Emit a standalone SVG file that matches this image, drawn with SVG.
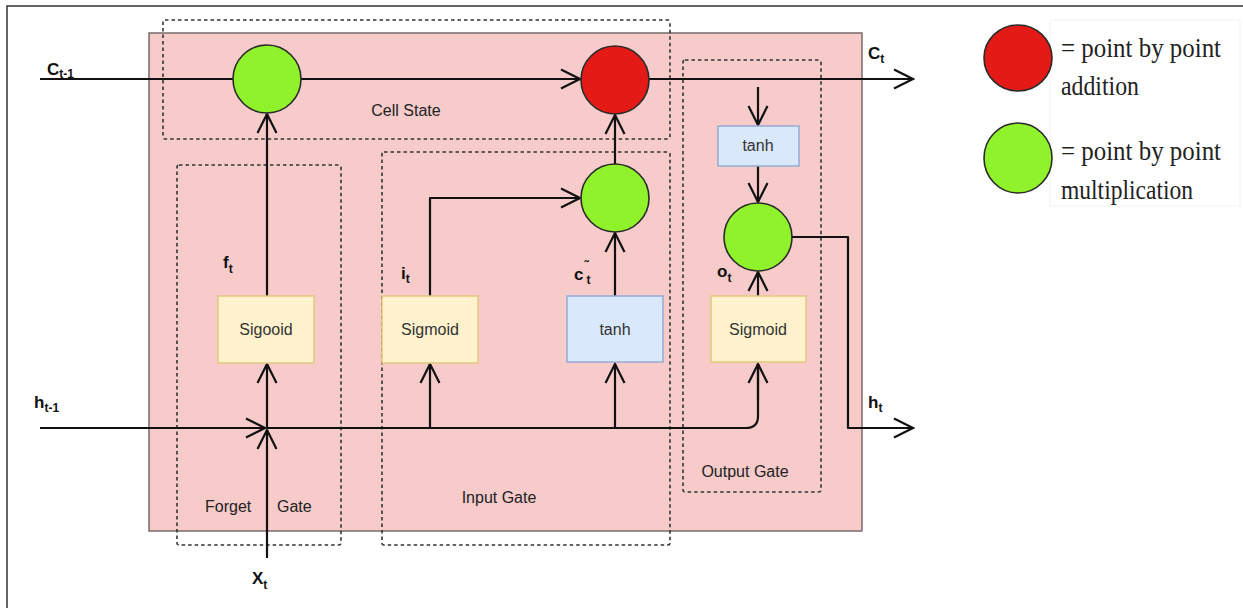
<svg xmlns="http://www.w3.org/2000/svg" width="1243" height="608" viewBox="0 0 1243 608">
<defs>
<style>
.frame{fill:none;stroke:#333;stroke-width:1.5}
.cell{fill:#f7cbca;stroke:#7a6a6a;stroke-width:1.5}
.dash{fill:none;stroke:#333;stroke-width:1.6;stroke-dasharray:3.5 3}
.ln{fill:none;stroke:#111;stroke-width:2.2;stroke-linejoin:round}
.arr{marker-end:url(#ah)}
.mul{fill:#8ff22b;stroke:#2a2a2a;stroke-width:1.6}
.add{fill:#e41a16;stroke:#2a2a2a;stroke-width:1.6}
.sig{fill:#fff2cc;stroke:#e3c77e;stroke-width:1.5}
.th{fill:#dae8fc;stroke:#94acd4;stroke-width:1.5}
.bt{font-family:"Liberation Sans",Arial,sans-serif;font-size:16px;fill:#333;text-anchor:middle}
.gl{font-family:"Liberation Sans",Arial,sans-serif;font-size:16px;fill:#222}
.var{font-family:"Liberation Sans",Arial,sans-serif;font-weight:bold;font-size:17px;fill:#111}
.sub{font-size:12px}
.leg{font-family:"Liberation Serif","Times New Roman",serif;font-size:27px;fill:#222}
</style>
<marker id="ah" viewBox="-22 -12 24 24" markerWidth="24" markerHeight="24" refX="0" refY="0" orient="auto" markerUnits="userSpaceOnUse">
<path d="M -19 -9.5 L 0 0 L -19 9.5" fill="none" stroke="#111" stroke-width="2.2" stroke-linejoin="miter"/>
</marker>
</defs>
<rect width="1243" height="608" fill="#fff"/>
<path class="frame" d="M 7 608 V 6 H 1243"/>
<g id="lstm-cell">
<rect class="cell" x="149" y="33" width="713" height="498"/>
</g>
<g id="cell-state-region">
<rect class="dash" x="163" y="20" width="507" height="119" rx="2"/>
<text class="gl" x="406" y="116" text-anchor="middle" font-size="17">Cell State</text>
</g>
<g id="forget-gate-region">
<rect class="dash" x="177" y="165" width="164" height="380" rx="2"/>
<text class="gl"><tspan x="205" y="512">Forget</tspan><tspan x="277" y="512">Gate</tspan></text>
</g>
<g id="input-gate-region">
<rect class="dash" x="382" y="152" width="288" height="393" rx="2"/>
<text class="gl" x="499" y="503" text-anchor="middle">Input Gate</text>
</g>
<g id="output-gate-region">
<rect class="dash" x="683" y="60" width="138" height="432" rx="2"/>
<text class="gl" x="745" y="477" text-anchor="middle">Output Gate</text>
</g>
<g id="connectors">
<path class="ln" d="M 40 79 H 233"/>
<path class="ln arr" d="M 301 79 H 580"/>
<path class="ln arr" d="M 649 79 H 913"/>
<path class="ln arr" d="M 267 296 V 114"/>
<path class="ln arr" d="M 40 428 H 265"/>
<path class="ln arr" d="M 267 558 V 430"/>
<path class="ln arr" d="M 267 428 V 364"/>
<path class="ln" d="M 267 428 H 746 Q 758 428 758 416 V 364"/>
<path class="ln arr" d="M 758 400 V 364"/>
<path class="ln arr" d="M 430 428 V 364"/>
<path class="ln arr" d="M 615 428 V 364"/>
<path class="ln arr" d="M 430 296 V 198 H 580"/>
<path class="ln arr" d="M 615 296 V 233"/>
<path class="ln arr" d="M 615 164 V 115"/>
<path class="ln arr" d="M 758 87 V 125"/>
<path class="ln arr" d="M 758 166 V 202"/>
<path class="ln arr" d="M 758 296 V 272"/>
<path class="ln arr" d="M 792 237 H 848 V 428 H 913"/>
</g>
<g id="forget-mult"><circle class="mul" cx="267" cy="79" r="34"/></g>
<g id="cell-add"><circle class="add" cx="615" cy="80" r="34"/></g>
<g id="input-mult"><circle class="mul" cx="615" cy="198" r="34"/></g>
<g id="output-mult"><circle class="mul" cx="758" cy="237" r="34"/></g>
<g id="forget-sigmoid">
<rect class="sig" x="218" y="296" width="96" height="67"/>
<text class="bt" x="266" y="335">Sigooid</text>
</g>
<g id="input-sigmoid">
<rect class="sig" x="382" y="296" width="96" height="67"/>
<text class="bt" x="430" y="335">Sigmoid</text>
</g>
<g id="input-tanh">
<rect class="th" x="567" y="296" width="96" height="66"/>
<text class="bt" x="615" y="335">tanh</text>
</g>
<g id="output-sigmoid">
<rect class="sig" x="711" y="296" width="95" height="66"/>
<text class="bt" x="758" y="335">Sigmoid</text>
</g>
<g id="output-tanh">
<rect class="th" x="718" y="126" width="81" height="40"/>
<text class="bt" x="758" y="151">tanh</text>
</g>
<g id="labels">
<text class="var" x="47" y="75">C<tspan class="sub" dy="3">t-1</tspan></text>
<text class="var" x="868" y="59" font-size="15">C<tspan class="sub" dy="4">t</tspan></text>
<text class="var" x="34" y="408">h<tspan class="sub" dy="4">t-1</tspan></text>
<text class="var" x="868" y="408" font-size="15">h<tspan class="sub" dy="4">t</tspan></text>
<text class="var" x="252" y="584" font-size="19">X<tspan class="sub" dy="5">t</tspan></text>
<text class="var" x="223" y="268">f<tspan class="sub" dy="5">t</tspan></text>
<text class="var" x="401" y="279">i<tspan class="sub" dy="4">t</tspan></text>
<text class="var" x="574" y="280">c<tspan class="sub" dy="-10" dx="1">˜</tspan><tspan class="sub" dy="14" dx="-2">t</tspan></text>
<text class="var" x="717" y="277">o<tspan class="sub" dy="5">t</tspan></text>
</g>
<g id="legend">
<rect x="1050" y="20" width="190" height="186" fill="none" stroke="#f1f1f1" stroke-width="1"/>
<g id="legend-add">
<ellipse class="add" cx="1018" cy="58" rx="34" ry="33"/>
<text class="leg" x="1061" y="57" textLength="160" lengthAdjust="spacingAndGlyphs">= point by point</text>
<text class="leg" x="1061" y="95" textLength="78" lengthAdjust="spacingAndGlyphs">addition</text>
</g>
<g id="legend-mult">
<ellipse class="mul" cx="1018" cy="158" rx="34" ry="35"/>
<text class="leg" x="1061" y="160" textLength="160" lengthAdjust="spacingAndGlyphs">= point by point</text>
<text class="leg" x="1061" y="199" textLength="132" lengthAdjust="spacingAndGlyphs">multiplication</text>
</g>
</g>
</svg>
